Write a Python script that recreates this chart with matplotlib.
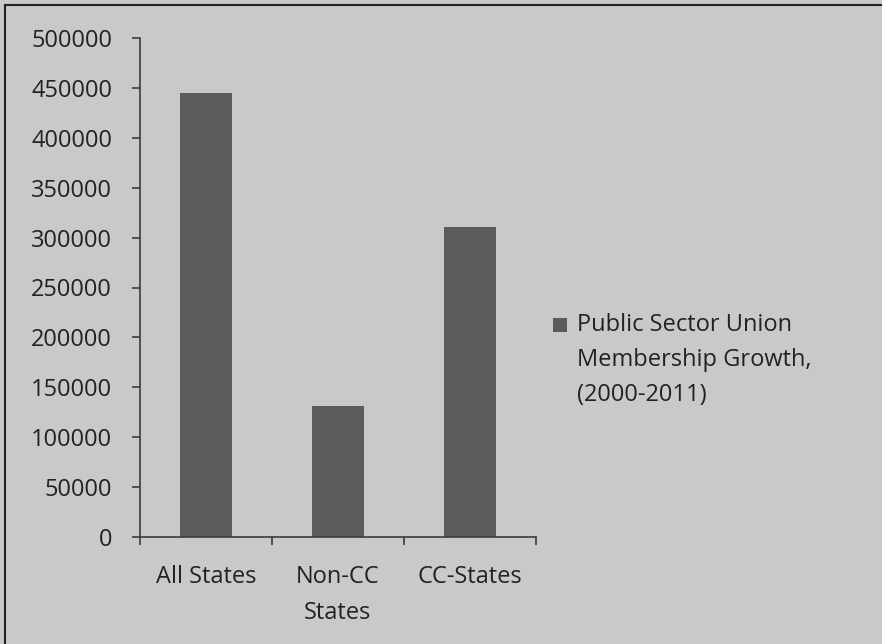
import matplotlib.pyplot as plt
from matplotlib.patches import Rectangle
from matplotlib.lines import Line2D

# data
categories = ["All States", "Non-CC\nStates", "CC-States"]
growth = [445000, 131000, 311000]
series_label = "Public Sector Union\nMembership Growth,\n(2000-2011)"
yticks = list(range(0, 500001, 50000))

bg = "#c9c9c9"
bar_color = "#5b5b5b"
axis_color = "#3c3c3c"
text_color = "#222222"
fs = 17

plt.rcParams["font.family"] = ["Open Sans", "DejaVu Sans"]

fig = plt.figure(figsize=(8.82, 6.44), dpi=100, facecolor=bg)
ax = fig.add_axes([140 / 882, 1 - 537 / 644, 396 / 882, 499 / 644])
ax.set_facecolor(bg)

x = range(len(categories))
ax.bar(x, growth, width=0.4, color=bar_color)

ax.set_xlim(-0.5, len(categories) - 0.5)
ax.set_ylim(0, 500000)
ax.set_yticks(yticks)
ax.set_yticklabels([str(v) for v in yticks])
ax.set_xticks(list(x))
ax.set_xticklabels(categories, linespacing=1.7)
ax.set_xticks([i - 0.5 for i in range(len(categories) + 1)], minor=True)

for s in ["top", "right"]:
    ax.spines[s].set_visible(False)
for s in ["left", "bottom"]:
    ax.spines[s].set_color(axis_color)
    ax.spines[s].set_linewidth(1.2)

ax.tick_params(axis="y", direction="out", length=6, width=1.2, color=axis_color,
               labelsize=fs, labelcolor=text_color, pad=14)
ax.tick_params(axis="x", which="major", length=0, labelsize=fs,
               labelcolor=text_color, pad=20)
ax.tick_params(axis="x", which="minor", direction="out", length=6, width=1.2,
               color=axis_color)

# legend
fig.patches.append(Rectangle((553 / 882, 1 - 332 / 644), 14 / 882, 14 / 644,
                             transform=fig.transFigure, facecolor=bar_color,
                             edgecolor="none"))
fig.text(577 / 882, 1 - 313 / 644, series_label, ha="left", va="top",
         fontsize=fs, color=text_color, linespacing=1.62)

# chart border (left and top edges)
fig.add_artist(Line2D([5 / 882, 5 / 882], [0, 1 - 5 / 644], color="#222222",
                      linewidth=1.5, transform=fig.transFigure))
fig.add_artist(Line2D([5 / 882, 1], [1 - 5 / 644, 1 - 5 / 644], color="#222222",
                      linewidth=1.5, transform=fig.transFigure))

fig.savefig("out.png", dpi=100, facecolor=bg)
